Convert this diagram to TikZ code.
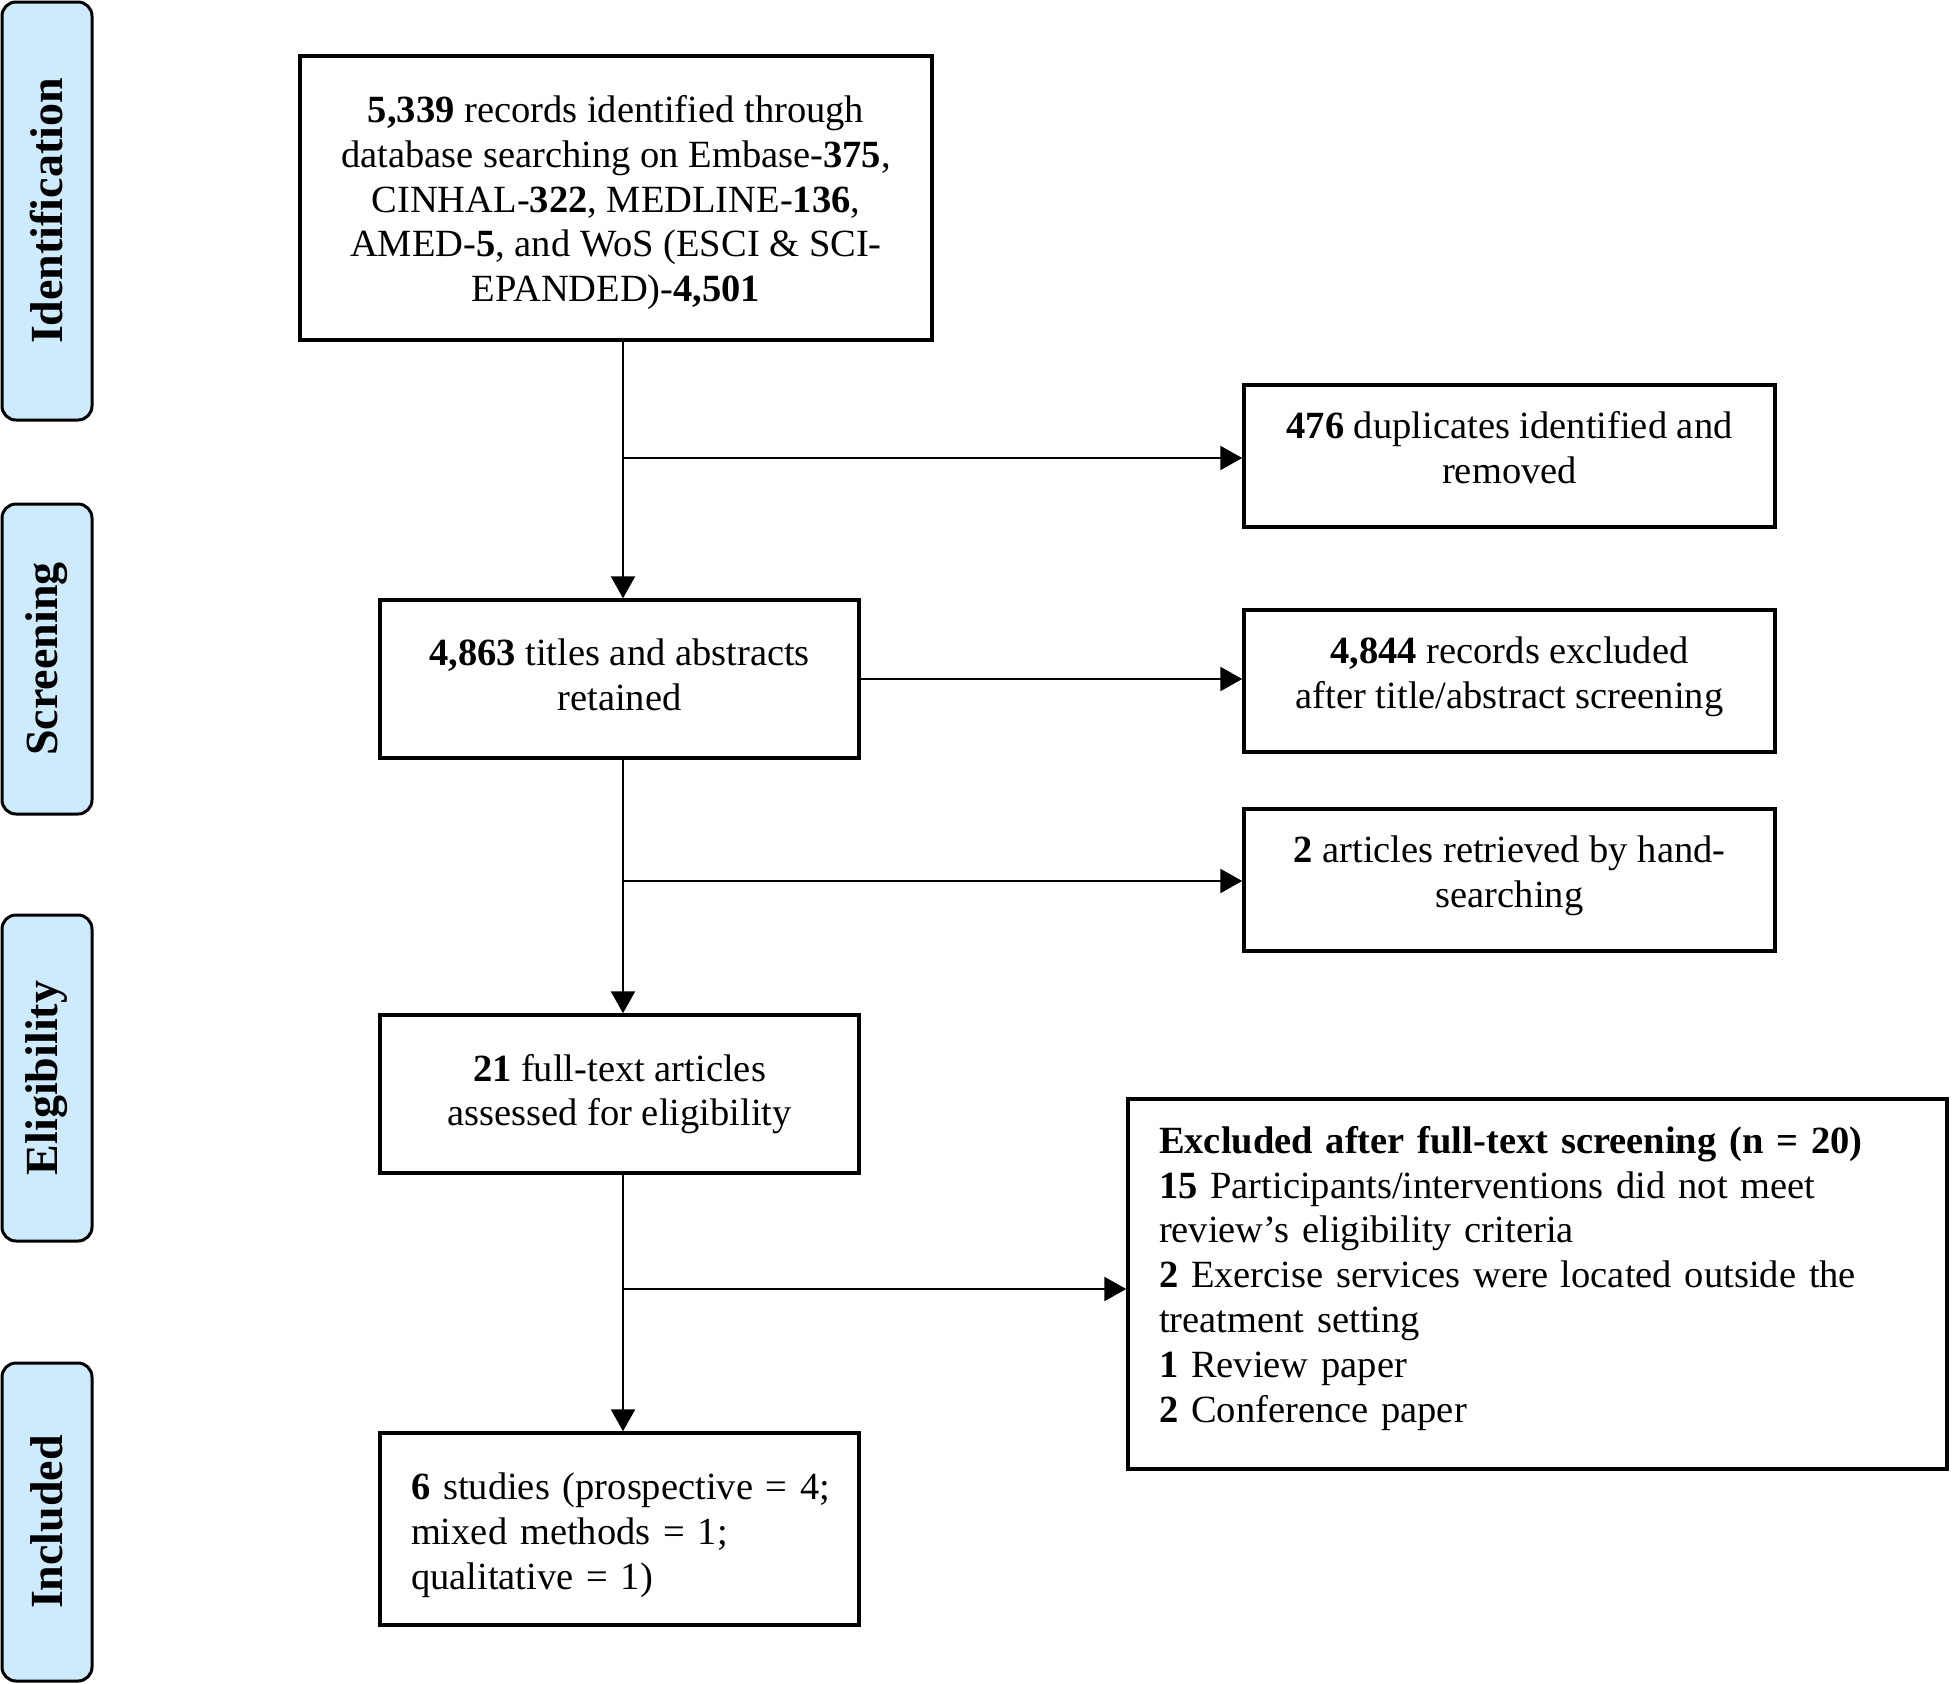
\documentclass[tikz,border=0pt]{standalone}
\usepackage{fontspec}
\setmainfont{Liberation Serif}
\usetikzlibrary{arrows.meta}
\definecolor{phaseblue}{RGB}{205,235,253}
\begin{document}
\begin{tikzpicture}[x=1pt,y=-1pt,
  every node/.style={font=\fontsize{38.5}{44.8}\selectfont},
  flowbox/.style={draw, line width=3.5pt, align=center, inner sep=0pt},
  leftbox/.style={draw, line width=3.5pt, align=left, inner ysep=0pt, inner xsep=31pt},
  phasebox/.style={draw, line width=3pt, fill=phaseblue, rounded corners=14pt, rotate=90,
    inner sep=0pt, minimum height=90pt, font=\fontsize{46}{50}\selectfont\bfseries},
  conn/.style={line width=2.5pt, -{Triangle[length=22pt,width=24pt]}},
  plainline/.style={line width=2.5pt}
]
\useasboundingbox (0,0) rectangle (1952,1684);

% phase labels
\node[phasebox, minimum width=418pt] (pid) at (47,211) {Identification};
\node[phasebox, minimum width=310pt] (psc) at (47,659) {Screening};
\node[phasebox, minimum width=326pt] (pel) at (47,1078) {Eligibility};
\node[phasebox, minimum width=318pt] (pin) at (47,1522) {Included};

% main column
\node[flowbox, minimum width=632pt, minimum height=284pt] (rec) at (616,198)
  {\mbox{}\\[-8.5pt]{\bfseries 5,339} records identified through\\database searching on Embase-{\bfseries 375},\\CINHAL-{\bfseries 322}, MEDLINE-{\bfseries 136},\\AMED-{\bfseries 5}, and WoS (ESCI \& SCI-\\EPANDED)-{\bfseries 4,501}};
\node[flowbox, minimum width=479pt, minimum height=158pt] (ret) at (619.5,679)
  {{\bfseries 4,863} titles and abstracts\\retained\\[-36.8pt]\mbox{}};
\node[flowbox, minimum width=479pt, minimum height=158pt] (full) at (619.5,1094)
  {{\bfseries 21} full-text articles\\assessed for eligibility};
\node[leftbox, text width=417pt, minimum height=192pt] (inc) at (619.5,1529)
  {\mbox{}\\[-5.8pt]\mbox{{\bfseries 6} studies (prospective = 4;}\\\mbox{mixed methods = 1;}\\\mbox{qualitative = 1)}};

% right column
\node[flowbox, minimum width=531pt, minimum height=142pt] (dup) at (1509.5,456)
  {{\bfseries 476} duplicates identified and\\removed\\[-27pt]\mbox{}};
\node[flowbox, minimum width=531pt, minimum height=142pt] (exc) at (1509.5,681)
  {{\bfseries 4,844} records excluded\\after title/abstract screening\\[-28.5pt]\mbox{}};
\node[flowbox, minimum width=531pt, minimum height=142pt] (hand) at (1509.5,880)
  {{\bfseries 2} articles retrieved by hand-\\searching\\[-28.5pt]\mbox{}};
\node[leftbox, text width=757pt, minimum height=370pt] (ft) at (1537.5,1284)
  {\mbox{\textbf{Excluded after full-text screening (n = 20)}}\\
   \mbox{{\bfseries 15} Participants/interventions did not meet}\\
   \mbox{review’s eligibility criteria}\\
   \mbox{{\bfseries 2} Exercise services were located outside the}\\
   \mbox{treatment setting}\\
   \mbox{{\bfseries 1} Review paper}\\
   \mbox{{\bfseries 2} Conference paper}\\[-25pt]\mbox{}};

% connectors
\coordinate (sp) at (623,0);
\coordinate (j1) at (623,458);
\coordinate (j2) at (623,881);
\coordinate (j3) at (623,1289);

\draw[plainline] (rec.south -| sp) -- (j1);
\draw[conn] (j1) -- (ret.north -| sp);
\draw[conn] (j1) -- (j1 -| dup.west);

\draw[conn] (ret.east) -- (ret.east -| exc.west);

\draw[plainline] (ret.south -| sp) -- (j2);
\draw[conn] (j2) -- (full.north -| sp);
\draw[conn] (j2) -- (j2 -| hand.west);

\draw[plainline] (full.south -| sp) -- (j3);
\draw[conn] (j3) -- (inc.north -| sp);
\draw[conn] (j3) -- (j3 -| ft.west);
\end{tikzpicture}
\end{document}
